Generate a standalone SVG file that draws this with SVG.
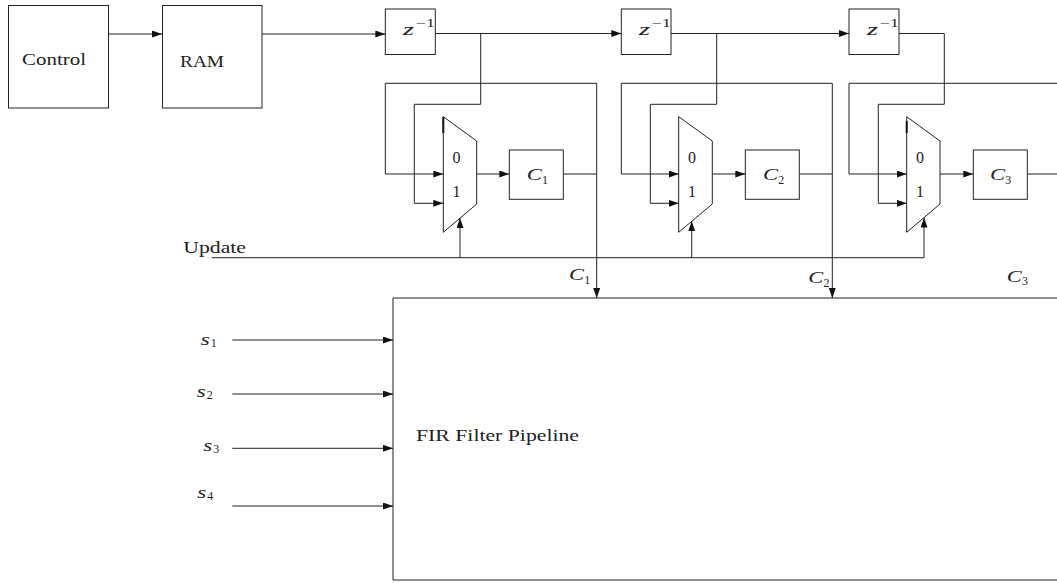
<svg xmlns="http://www.w3.org/2000/svg" width="1057" height="583" viewBox="0 0 1057 583">
<style>
.box{fill:none;stroke:#222;stroke-width:1}
.ln{fill:none;stroke:#222;stroke-width:1}
.arr{fill:none;stroke:#222;stroke-width:1;marker-end:url(#ah)}
.t{font-family:"Liberation Serif","DejaVu Serif",serif;font-size:16px;fill:#222}
.m{font-family:"Liberation Serif","DejaVu Serif",serif;font-style:italic;font-size:16px;fill:#222}
.sub{font-family:"Liberation Serif","DejaVu Serif",serif;font-size:12px;fill:#222}
</style>
<defs>
<marker id="ah" markerUnits="userSpaceOnUse" markerWidth="11" markerHeight="8" refX="10" refY="3.5" orient="auto">
<path d="M0,0 L10,3.5 L0,7 z" fill="#111"/>
</marker>
</defs>
<rect width="1057" height="583" fill="#fff"/>

<g id="connectors">
<path class="arr" d="M108,34 H162"/>
<path class="arr" d="M262,34 H385.3"/>
<path class="arr" d="M435.3,33.5 H621.3"/>
<path class="arr" d="M671,33.5 H849"/>
<!-- stage 1 -->
<path class="arr" d="M480.7,33.5 V104.3 H414.3 V203.3 H443.3"/>
<path class="arr" d="M596.7,83.3 H385.3 V174 H443.3"/>
<path class="arr" d="M596.7,83.3 V298"/>
<path class="ln" d="M563.3,174 H596.7"/>
<path class="arr" d="M476.7,174 H509.3"/>
<path class="arr" d="M460,257.7 V218"/>
<!-- stage 2 -->
<path class="arr" d="M716.7,33.5 V104.3 H650.3 V203.3 H678.7"/>
<path class="arr" d="M832.3,83.3 H621.3 V174 H678.7"/>
<path class="arr" d="M832.3,83.3 V298"/>
<path class="ln" d="M799.3,174 H832.3"/>
<path class="arr" d="M712.3,174 H745.3"/>
<path class="arr" d="M691.7,257.7 V221.3"/>
<!-- stage 3 -->
<path class="arr" d="M899,33.5 H944.3 V104.3 H878.3 V203.3 H906.7"/>
<path class="arr" d="M1060,83.3 H849 V174 H906.7"/>
<path class="ln" d="M1027.3,174 H1060"/>
<path class="arr" d="M940,174 H973.3"/>
<!-- update -->
<path class="ln" d="M211.7,257.7 H924"/>
<path class="arr" d="M924,257.7 V217.6"/>
<!-- inputs -->
<path class="arr" d="M232.3,340 H393"/>
<path class="arr" d="M232.3,394 H393"/>
<path class="arr" d="M232.3,448.3 H393"/>
<path class="arr" d="M232.3,506 H393"/>
</g>

<g id="control">
<rect class="box" x="8.5" y="5.5" width="100" height="102.5"/>
<text class="t" x="22" y="64.5" textLength="64" lengthAdjust="spacingAndGlyphs">Control</text>
</g>
<g id="ram">
<rect class="box" x="162.5" y="5.5" width="99.5" height="102.5"/>
<text class="t" x="180" y="67" textLength="44" lengthAdjust="spacingAndGlyphs">RAM</text>
</g>

<g id="z1">
<rect class="box" x="385.3" y="9" width="50" height="45.5"/>
<text class="m" x="403" y="35" textLength="11" lengthAdjust="spacingAndGlyphs">z</text>
<text class="sub" x="416" y="27" textLength="19" lengthAdjust="spacingAndGlyphs">−1</text>
</g>
<g id="z2">
<rect class="box" x="621.3" y="9" width="49.7" height="45.5"/>
<text class="m" x="639" y="35" textLength="11" lengthAdjust="spacingAndGlyphs">z</text>
<text class="sub" x="652" y="27" textLength="19" lengthAdjust="spacingAndGlyphs">−1</text>
</g>
<g id="z3">
<rect class="box" x="849" y="9" width="50" height="45.5"/>
<text class="m" x="867" y="35" textLength="11" lengthAdjust="spacingAndGlyphs">z</text>
<text class="sub" x="880" y="27" textLength="19" lengthAdjust="spacingAndGlyphs">−1</text>
</g>

<g id="mux1">
<polygon class="box" points="443.3,116.7 476.7,141 476.7,204 443.3,232.3"/>
<line x1="443.3" y1="117" x2="443.3" y2="133" stroke="#111" stroke-width="2"/>
<text class="t" x="452.5" y="163.3">0</text>
<text class="t" x="452.5" y="196.7">1</text>
</g>
<g id="mux2">
<polygon class="box" points="678.7,116.7 712.3,141 712.3,204 678.7,232.3"/>
<text class="t" x="687.9" y="163.3">0</text>
<text class="t" x="687.9" y="196.7">1</text>
</g>
<g id="mux3">
<polygon class="box" points="906.7,116.7 940,141 940,204 906.7,232.3"/>
<line x1="906.7" y1="121" x2="906.7" y2="133" stroke="#111" stroke-width="2"/>
<text class="t" x="915.9" y="163.3">0</text>
<text class="t" x="915.9" y="196.7">1</text>
</g>

<g id="c1">
<rect class="box" x="509.3" y="150" width="54" height="49.3"/>
<text class="m" x="526.7" y="180" textLength="15" lengthAdjust="spacingAndGlyphs">C</text>
<text class="sub" x="542" y="183.5">1</text>
</g>
<g id="c2">
<rect class="box" x="745.3" y="150" width="54" height="49.3"/>
<text class="m" x="763" y="180" textLength="15" lengthAdjust="spacingAndGlyphs">C</text>
<text class="sub" x="778.3" y="183.5">2</text>
</g>
<g id="c3">
<rect class="box" x="973.3" y="150" width="54" height="49.3"/>
<text class="m" x="990" y="180" textLength="15" lengthAdjust="spacingAndGlyphs">C</text>
<text class="sub" x="1005.3" y="183.5">3</text>
</g>

<g id="fir">
<path class="box" d="M1060,298 H393 V580 H1060"/>
<text class="t" x="416" y="440.7" textLength="163" lengthAdjust="spacingAndGlyphs">FIR Filter Pipeline</text>
</g>

<g id="labels">
<text class="t" x="183.3" y="253.3" textLength="62.7" lengthAdjust="spacingAndGlyphs">Update</text>
<text class="m" x="569" y="280" textLength="15" lengthAdjust="spacingAndGlyphs">C</text>
<text class="sub" x="584.3" y="283.5">1</text>
<text class="m" x="808.3" y="283" textLength="15" lengthAdjust="spacingAndGlyphs">C</text>
<text class="sub" x="823.6" y="286.5">2</text>
<text class="m" x="1006.7" y="281.5" textLength="15" lengthAdjust="spacingAndGlyphs">C</text>
<text class="sub" x="1022" y="285">3</text>
<text class="m" x="200.7" y="344.5" textLength="9" lengthAdjust="spacingAndGlyphs">s</text>
<text class="sub" x="210.7" y="347">1</text>
<text class="m" x="196.7" y="396.5" textLength="9" lengthAdjust="spacingAndGlyphs">s</text>
<text class="sub" x="206.7" y="399">2</text>
<text class="m" x="203.3" y="450.5" textLength="9" lengthAdjust="spacingAndGlyphs">s</text>
<text class="sub" x="213.3" y="453">3</text>
<text class="m" x="197.3" y="497.5" textLength="9" lengthAdjust="spacingAndGlyphs">s</text>
<text class="sub" x="207.3" y="500">4</text>
</g>
</svg>
